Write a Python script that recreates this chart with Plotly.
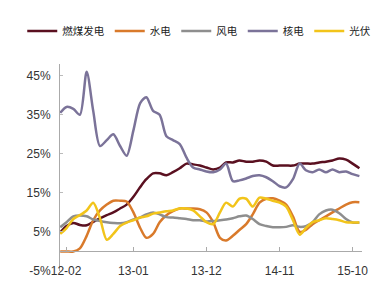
import pandas as pd
import plotly.graph_objects as go

months = pd.date_range("2012-02-01", periods=46, freq="MS")

coal = [4.9, 6.5, 7.3, 6.8, 6.7, 7.6, 8.5, 9.3, 10, 11,
        12, 14, 16.5, 18.5, 20, 20, 19.5, 20.3, 21.3, 22.5,
        22.3, 22, 21.5, 21, 21.5, 22.8, 22.8, 23.3, 23, 23,
        23.3, 23, 22, 22, 22, 22, 22.5, 22.5, 22.5, 22.8,
        23, 23.3, 23.8, 23.5, 22.5, 21.3]
hydro = [0, 0, 0, 0.8, 4, 8, 10.5, 12, 13, 13,
         12.8, 10, 6, 3.5, 4.5, 7.5, 9.3, 10.3, 11, 11,
         11, 10.8, 10, 7.5, 3.5, 2.8, 4, 5.5, 7, 9.5,
         12.5, 13.5, 13.6, 13, 12, 9, 5, 5.5, 7, 8,
         9, 10, 11, 12, 12.6, 12.6]
wind = [6.2, 7.5, 9, 9.2, 9, 8.2, 7.8, 7.5, 7.3, 7.2,
        7.5, 8.2, 8.7, 9.5, 10, 9.5, 8.8, 8.7, 8.5, 8.3,
        8, 8, 7.7, 7.8, 8, 8.2, 8.5, 9, 9.2, 8.3,
        7, 6.5, 6.2, 6.2, 6.3, 6.7, 6.3, 6.5, 7.5, 9.5,
        10.5, 10.7, 9.8, 8.3, 7.4, 7.4]
nuclear = [35.5, 37, 36.5, 35, 46, 36, 27, 28.5, 30, 27,
           24.5, 31, 38, 39.5, 36, 35, 29.5, 28.5, 27.5, 24,
           21.5, 21, 20.5, 20.3, 21, 22.5, 18, 18.2, 18.7, 19.3,
           19.5, 19, 18, 16.7, 16.4, 18.5, 22.5, 20.8, 20.3, 21,
           20.3, 21, 20.3, 20.5, 19.8, 19.3]
solar = [4.5, 6, 8.3, 9.3, 10.5, 12.5, 8.5, 3, 4.5, 6.5,
         7.4, 8, 8.7, 9, 9.7, 10, 10.3, 10.5, 11, 11,
         10.5, 9, 7.5, 7, 10, 12.5, 11.5, 13.5, 13.5, 11.5,
         13.8, 13.5, 13, 12.5, 11.5, 8, 4.3, 6, 7.5, 8,
         8.5, 8.3, 8, 7.5, 7.4, 7.4]

names = ["燃煤发电", "水电", "风电", "核电", "光伏"]
series = [coal, hydro, wind, nuclear, solar]
colors = ["#5a1020", "#d97a2b", "#8e8e8e", "#7b7399", "#f2c41a"]

x_tickvals = ["2012-02-28", "2013-01-01", "2013-12-01", "2014-11-01", "2015-10-01"]
x_ticktext = ["12-02", "13-01", "13-12", "14-11", "15-10"]
y_tickvals = [-5, 5, 15, 25, 35, 45]
y_ticktext = ["-5%", "5%", "15%", "25%", "35%", "45%"]

fig = go.Figure()
for n, s, c in zip(names, series, colors):
    fig.add_trace(go.Scatter(x=months, y=s, name=n, mode="lines",
                             line=dict(color=c, width=2.5, shape="spline", smoothing=0.8)))

fig.update_layout(
    width=382, height=299,
    margin=dict(l=60, r=20, t=64, b=28),
    paper_bgcolor="white", plot_bgcolor="white",
    font=dict(family="Liberation Sans, Arial, sans-serif", size=12, color="#333333"),
    showlegend=True,
    legend=dict(orientation="h", x=-0.125, xanchor="left", y=1.16, yanchor="middle",
                font=dict(family="Noto Sans CJK SC", size=10.5, color="#222222"),
                itemwidth=30, tracegroupgap=0, bgcolor="rgba(0,0,0,0)"),
    xaxis=dict(range=["2012-01-31", "2015-11-13"], tickvals=x_tickvals, ticktext=x_ticktext,
               showgrid=False, zeroline=False, showline=True, linecolor="#aaaaaa", linewidth=1,
               anchor="free", position=5/53, ticks="inside", ticklen=4, tickcolor="#aaaaaa",
               ticklabelstandoff=8, tickfont=dict(size=12, color="#333333")),
    yaxis=dict(range=[-5, 48], tickvals=y_tickvals, ticktext=y_ticktext,
               showgrid=False, zeroline=False, showline=True, linecolor="#aaaaaa", linewidth=1,
               ticks="inside", ticklen=3, tickcolor="#bbbbbb", ticklabelstandoff=6,
               tickfont=dict(size=12, color="#333333")),
)

fig.write_html("out.html")
